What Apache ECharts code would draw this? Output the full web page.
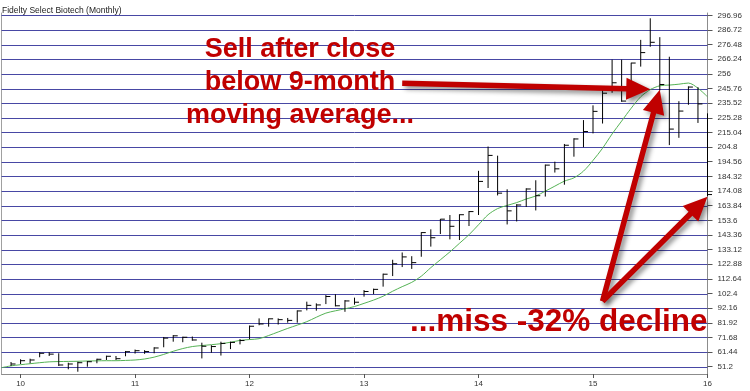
<!DOCTYPE html>
<html><head><meta charset="utf-8">
<script src="https://cdn.jsdelivr.net/npm/echarts@6/dist/echarts.min.js"></script>
<style>html,body{margin:0;padding:0;background:#fff;}#c{width:750px;height:391px;}</style>
</head><body><div id="c"></div>
<script>
const months = ['2009-11','2009-12',
'2010-01','2010-02','2010-03','2010-04','2010-05','2010-06','2010-07','2010-08','2010-09','2010-10','2010-11','2010-12',
'2011-01','2011-02','2011-03','2011-04','2011-05','2011-06','2011-07','2011-08','2011-09','2011-10','2011-11','2011-12',
'2012-01','2012-02','2012-03','2012-04','2012-05','2012-06','2012-07','2012-08','2012-09','2012-10','2012-11','2012-12',
'2013-01','2013-02','2013-03','2013-04','2013-05','2013-06','2013-07','2013-08','2013-09','2013-10','2013-11','2013-12',
'2014-01','2014-02','2014-03','2014-04','2014-05','2014-06','2014-07','2014-08','2014-09','2014-10','2014-11','2014-12',
'2015-01','2015-02','2015-03','2015-04','2015-05','2015-06','2015-07','2015-08','2015-09','2015-10','2015-11','2015-12',
'2016-01'];
const high = [null,54.5,
56.4,56.8,61.3,61.3,60.6,54.0,54.7,55.2,56.8,58.9,58.7,62.2,
63.2,62.8,64.8,72.0,73.3,72.2,72.3,68.0,66.2,68.7,68.7,70.5,
80.0,85.0,85.0,85.0,85.3,90.6,96.7,95.5,101.3,101.9,97.8,99.5,
104.8,105.8,116.3,126.0,131.1,128.5,145.3,147.3,154.5,157.3,157.8,160.1,
188.2,205.2,198.8,175.3,164.9,176.0,181.6,192.6,194.6,207.0,211.0,223.7,
234.0,244.8,266.0,266.0,263.8,279.8,294.9,281.7,268.0,236.9,247.3,246.7,
228.4];
const low = [null,51.7,
53.1,53.6,57.8,58.7,51.7,49.4,47.7,51.2,53.6,55.9,55.9,58.5,
60.4,60.2,60.6,64.8,68.7,68.3,69.4,57.0,61.0,59.0,63.5,66.8,
70.4,80.2,79.2,80.7,82.0,82.0,90.6,90.4,95.0,93.4,89.6,94.6,
100.2,102.0,107.2,114.6,120.9,119.6,128.1,135.2,144.0,140.3,139.8,149.6,
157.3,176.2,171.0,150.7,152.8,162.9,160.5,170.2,187.0,178.5,198.1,204.7,
214.4,221.3,242.8,236.5,239.8,261.1,275.0,244.4,206.2,211.3,234.4,221.7,
170.5];
const close = [null,53.1,
55.4,55.9,60.6,60.0,52.4,53.1,54.0,54.7,56.4,58.5,56.8,61.7,
62.4,61.8,64.3,71.2,72.8,71.8,69.9,65.5,65.3,67.5,68.2,69.5,
79.5,81.1,84.7,84.1,83.6,90.2,94.1,94.4,100.3,93.8,97.2,96.3,
103.8,105.3,115.9,123.2,128.0,124.0,145.0,141.4,154.4,149.4,157.5,159.7,
180.8,199.0,172.6,160.2,164.3,175.5,170.8,192.2,189.6,206.1,210.5,215.7,
229.8,242.5,249.8,237.0,263.6,270.9,278.1,248.6,217.4,230.0,246.8,235.0,
171.6];
const ma9 = [50.5,51.8,
52.6,53.3,54.0,54.6,54.8,54.9,55.0,55.2,55.3,55.4,55.4,55.6,
55.9,56.6,57.9,59.8,62.0,63.9,65.3,66.0,66.6,67.3,68.3,69.6,
70.2,70.8,73.0,75.5,78.0,80.3,82.7,85.8,88.7,90.3,91.7,93.3,
95.5,97.8,100.5,104.0,107.2,110.2,114.5,120.5,126.0,131.5,137.5,143.5,
150.5,157.5,161.8,164.0,166.0,168.5,170.6,174.0,177.5,181.0,183.3,188.0,
195.5,204.0,214.0,223.0,232.0,240.0,245.0,247.7,248.2,248.8,249.6,246.0,
240.0];
const tickValues = [296.96,286.72,276.48,266.24,256,245.76,235.52,225.28,215.04,204.8,194.56,184.32,174.08,163.84,153.6,143.36,133.12,122.88,112.64,102.4,92.16,81.92,71.68,61.44,51.2];
const tickLabels = ['296.96','286.72','276.48','266.24','256','245.76','235.52','225.28','215.04','204.8','194.56','184.32','174.08','163.84','153.6','143.36','133.12','122.88','112.64','102.4','92.16','81.92','71.68','61.44','51.2'];
const yearMonths = ['2010-01','2011-01','2012-01','2013-01','2014-01','2015-01','2016-01'];
const yearLabels = ['10','11','12','13','14','15','16'];
const titleText = 'Fidelty Select Biotech (Monthly)';
const noteSell = ['Sell after close','below 9-month','moving average...'];
const noteMiss = '...miss -32% decline';
// arrow anchors in data space: [month index, price]
const arrows = [
  {from:[41.8, 249.4], to:[68.4, 245.2]},
  {from:[63.0, 97.0], to:[69.0, 245.0]},
  {from:[63.0, 97.0], to:[73.9, 170.0]}
];

const FONT = '"Liberation Sans", Arial, sans-serif';
const chart = echarts.init(document.getElementById('c'), null, {renderer:'canvas'});
const barData = [];
months.forEach((m,i)=>{ if(high[i]!=null) barData.push([i, high[i], low[i], close[i]]); });
const gridData = tickValues.map(v=>[0, v, months.length-1]);

function renderBar(params, api){
  const x = api.value(0);
  const t = api.coord([x, api.value(1)]);
  const b = api.coord([x, api.value(2)]);
  const c = api.coord([x, api.value(3)]);
  return {type:'group', children:[
    {type:'line', shape:{x1:t[0], y1:t[1], x2:b[0], y2:b[1]}, style:{stroke:'#000', lineWidth:1}},
    {type:'line', shape:{x1:c[0], y1:c[1], x2:c[0]+4.5, y2:c[1]}, style:{stroke:'#000', lineWidth:1}}
  ]};
}
function renderGrid(params, api){
  const a = api.coord([api.value(0), api.value(1)]);
  const b = api.coord([api.value(2), api.value(1)]);
  const y = Math.round(a[1]) + 0.5;
  return {type:'line', shape:{x1:a[0], y1:y, x2:b[0], y2:y}, style:{stroke:'#4848a4', lineWidth:1}};
}
function labelFor(v){
  for(let i=0;i<tickValues.length;i++){ if(Math.abs(tickValues[i]-v)<1e-6) return tickLabels[i]; }
  return '';
}

chart.setOption({
  animation:false,
  backgroundColor:'#fff',
  title:{text:titleText, left:2, top:6, padding:0, textStyle:{fontSize:8.5, fontWeight:'normal', color:'#222', fontFamily:FONT}},
  grid:{left:1.5, right:42.5, top:13, bottom:17, containLabel:false},
  xAxis:{type:'category', data:months, boundaryGap:false,
    axisLine:{show:true, lineStyle:{color:'#8c8c8c', width:1}},
    axisTick:{show:true, length:4, lineStyle:{color:'#555'}, interval:(i,v)=>yearMonths.indexOf(v)>=0},
    axisLabel:{show:true, interval:(i,v)=>yearMonths.indexOf(v)>=0, formatter:(v)=>{const k=yearMonths.indexOf(v);return k>=0?yearLabels[k]:'';}, fontSize:8, color:'#333', fontFamily:FONT, margin:6},
    splitLine:{show:false}},
  yAxis:[{type:'value', position:'right', min:46.1, max:298.6, scale:true,
    axisLine:{show:true, lineStyle:{color:'#8c8c8c', width:1}},
    axisTick:{show:true, length:5, customValues:tickValues, lineStyle:{color:'#555'}},
    axisLabel:{show:true, customValues:tickValues, formatter:labelFor, fontSize:8, color:'#333', fontFamily:FONT, margin:10},
    splitLine:{show:false}},
   {type:'value', position:'left', min:46.1, max:298.6, axisLine:{show:true, lineStyle:{color:'#a0a0a0'}}, axisTick:{show:false}, axisLabel:{show:false}, splitLine:{show:false}}],
  series:[
    {type:'custom', name:'Grid', data:gridData, renderItem:renderGrid, encode:{x:[0,2], y:1}, z:1, silent:true},
    {type:'line', name:'MA9', data:ma9, yAxisIndex:0, showSymbol:false, smooth:0.3, z:2,
      lineStyle:{color:'#55b255', width:1}},
    {type:'custom', name:'Price', data:barData, renderItem:renderBar, encode:{x:0, y:[1,2,3]}, z:3}
  ]
});

function arrowPoly(p0, p1, sw, hl, hw){
  const dx=p1[0]-p0[0], dy=p1[1]-p0[1]; const L=Math.sqrt(dx*dx+dy*dy);
  const ux=dx/L, uy=dy/L, nx=-uy, ny=ux;
  const bx=p1[0]-ux*hl, by=p1[1]-uy*hl;
  return [[p0[0]+nx*sw/2,p0[1]+ny*sw/2],[bx+nx*sw/2,by+ny*sw/2],[bx+nx*hw/2,by+ny*hw/2],[p1[0],p1[1]],[bx-nx*hw/2,by-ny*hw/2],[bx-nx*sw/2,by-ny*sw/2],[p0[0]-nx*sw/2,p0[1]-ny*sw/2]];
}
const graphics = [];
arrows.forEach(a=>{
  const p0 = chart.convertToPixel({gridIndex:0}, a.from);
  const p1 = chart.convertToPixel({gridIndex:0}, a.to);
  graphics.push({type:'polygon', z:50, shape:{points:arrowPoly(p0,p1,5.5,24,22)},
    style:{fill:'#c00000', shadowBlur:5, shadowColor:'rgba(0,0,0,0.45)', shadowOffsetX:3, shadowOffsetY:3}});
});
noteSell.forEach((t,i)=>{
  graphics.push({type:'text', z:60, style:{text:t, x:300, y:50+i*33, fill:'#c00000', font:'bold 27px '+FONT, align:'center', verticalAlign:'middle'}});
});
graphics.push({type:'text', z:60, style:{text:noteMiss, x:410, y:322, fill:'#c00000', font:'bold 31.5px '+FONT, align:'left', verticalAlign:'middle'}});
chart.setOption({graphic:graphics});
</script></body></html>
